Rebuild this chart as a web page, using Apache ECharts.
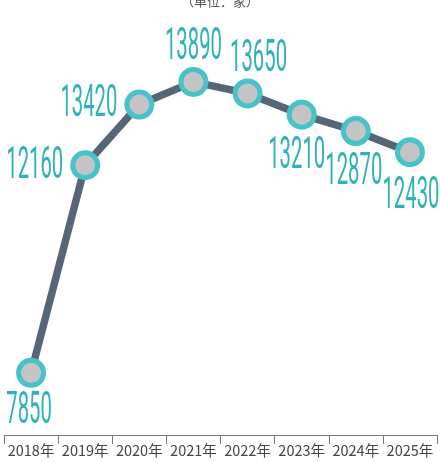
<!DOCTYPE html>
<html lang="zh">
<head>
    <meta charset="UTF-8">
    <title></title>
    <style>body{margin:0;background:#fff;}</style>
</head>
<body>
<div id="container" style="width: 440px;height:462px;"></div>

<script src="https://cdn.jsdelivr.net/npm/echarts@6/dist/echarts.min.js"></script>
<script type="text/javascript">

// 年份
var years = ['2018年', '2019年', '2020年', '2021年', '2022年', '2023年', '2024年', '2025年'];
// 数量（单位：家）
var counts = [7850, 12160, 13420, 13890, 13650, 13210, 12870, 12430];

// 数值标签相对圆点的摆放（对齐方式 + 偏移）
var labelAlign = ['center', 'right', 'right', 'center', 'center', 'center', 'center', 'center'];
var labelDx = [-2, -22, -22, 0, 11, -5, -2, 1];
var labelDy = [39, 2, 0, -34, -33, 42, 42, 45];

var dom = document.getElementById("container");
var myChart = echarts.init(dom);

// 窄体数字：用 scaleX 把普通字体压窄
function renderLabel(params, api) {
  var idx = api.value(0);
  var pt = api.coord([idx, api.value(1)]);
  return {
    type: 'text',
    x: pt[0] + labelDx[idx],
    y: pt[1] + labelDy[idx],
    scaleX: 0.46,
    style: {
      text: String(api.value(1)),
      fill: '#2fb1b7',
      font: '44px Roboto',
      align: labelAlign[idx],
      verticalAlign: 'middle'
    }
  };
}

var labelData = [];
for (var i = 0; i < counts.length; i++) {
  labelData.push([i, counts[i]]);
}

var option = {
    title: {
        text: '（单位：家）',
        left: 'center',
        top: -10,
        textStyle: {fontSize: 13, fontWeight: 'normal', color: '#555', fontFamily: 'Noto Sans CJK SC'}
    },
    grid: {
        left: 4,
        right: 3,
        top: 0,
        bottom: 27
    },
    xAxis: {
        type: 'category',
        boundaryGap: true,
        data: years,
        axisLine: {lineStyle: {color: '#7a7a7a', width: 1}},
        axisTick: {show: true, length: 9, lineStyle: {color: '#7a7a7a'}},
        axisLabel: {color: '#444', fontSize: 14.5, margin: 8, fontFamily: 'Noto Sans CJK SC', interval: 0}
    },
    yAxis: {
        type: 'value',
        min: 6560,
        max: 15590,
        show: false,
        splitLine: {show: false}
    },
    series: [{
        type: 'line',
        data: counts,
        symbol: 'circle',
        symbolSize: 25,
        lineStyle: {color: '#566676', width: 7.5},
        itemStyle: {color: '#c4c4c4', borderColor: '#46c2c8', borderWidth: 5},
        emphasis: {disabled: true}
    }, {
        type: 'custom',
        data: labelData,
        renderItem: renderLabel,
        z: 5
    }]
};

myChart.setOption(option);
</script>
</body>
</html>
